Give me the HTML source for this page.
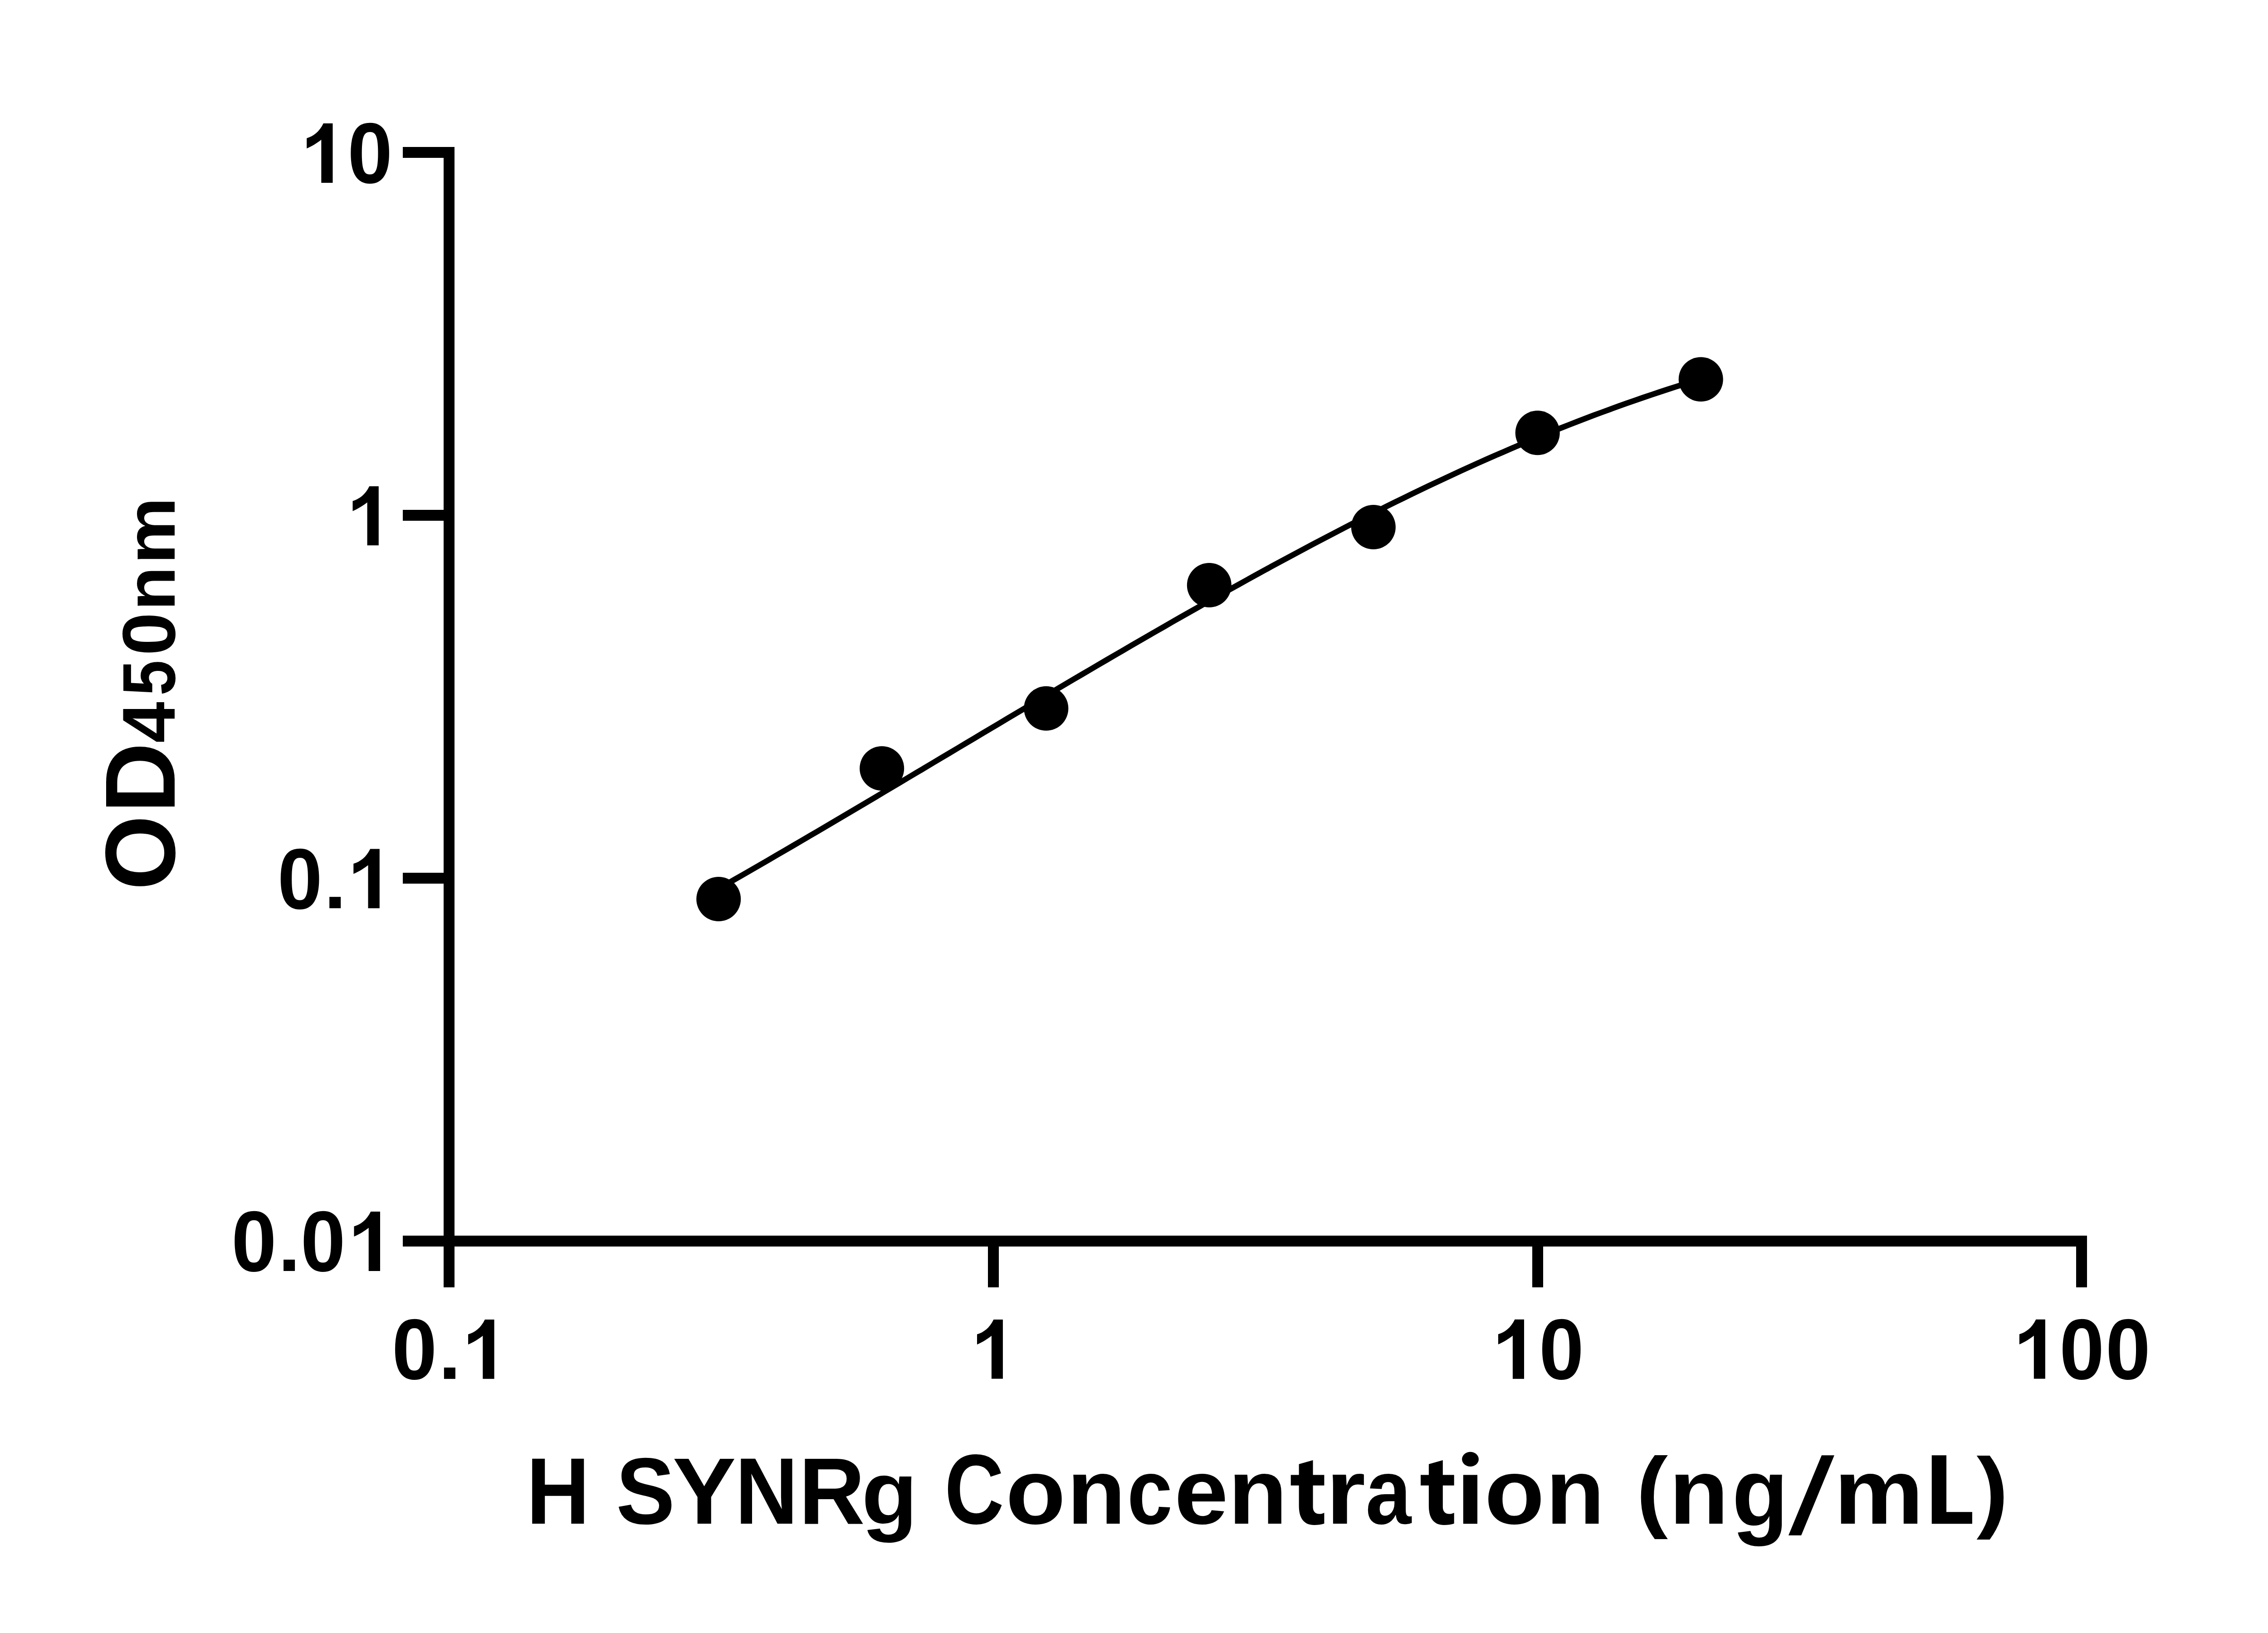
<!DOCTYPE html>
<html><head><meta charset="utf-8"><style>
html,body{margin:0;padding:0;background:#fff;}
body{width:5142px;height:3600px;overflow:hidden;}
svg{display:block;}
text{font-family:"Liberation Sans",sans-serif;font-weight:bold;fill:#000;}
</style></head><body>
<svg width="5142" height="3600" viewBox="0 0 5142 3600">
<rect width="5142" height="3600" fill="#fff"/>
<g fill="#000">
<rect x="978" y="324" width="24" height="2514"/>
<rect x="888" y="324" width="114" height="24"/>
<rect x="888" y="1124" width="114" height="24"/>
<rect x="888" y="1924" width="114" height="24"/>
<rect x="888" y="2724" width="3713" height="24"/>
<rect x="2178" y="2724" width="24" height="114"/>
<rect x="3378" y="2724" width="24" height="114"/>
<rect x="4577" y="2724" width="24" height="114"/>
</g>
<path d="M1584.2,1959.0 L1602.4,1948.7 L1620.6,1938.3 L1638.8,1927.8 L1657.0,1917.3 L1675.2,1906.8 L1693.4,1896.3 L1711.6,1885.7 L1729.8,1875.1 L1748.0,1864.5 L1766.2,1853.9 L1784.4,1843.2 L1802.6,1832.6 L1820.8,1821.9 L1839.0,1811.1 L1857.2,1800.4 L1875.4,1789.6 L1893.6,1778.9 L1911.8,1768.1 L1930.0,1757.3 L1948.1,1746.5 L1966.3,1735.7 L1984.5,1724.9 L2002.7,1714.0 L2020.9,1703.2 L2039.1,1692.4 L2057.3,1681.5 L2075.5,1670.7 L2093.7,1659.8 L2111.9,1649.0 L2130.1,1638.1 L2148.3,1627.3 L2166.5,1616.4 L2184.7,1605.6 L2202.9,1594.8 L2221.1,1583.9 L2239.3,1573.1 L2257.5,1562.3 L2275.7,1551.5 L2293.9,1540.7 L2312.1,1529.9 L2330.3,1519.2 L2348.5,1508.4 L2366.7,1497.7 L2384.9,1487.0 L2403.1,1476.3 L2421.3,1465.6 L2439.5,1455.0 L2457.7,1444.4 L2475.9,1433.8 L2494.1,1423.2 L2512.3,1412.6 L2530.5,1402.1 L2548.7,1391.6 L2566.9,1381.2 L2585.1,1370.7 L2603.3,1360.3 L2621.5,1350.0 L2639.7,1339.7 L2657.9,1329.4 L2676.0,1319.1 L2694.2,1308.9 L2712.4,1298.8 L2730.6,1288.7 L2748.8,1278.6 L2767.0,1268.6 L2785.2,1258.6 L2803.4,1248.6 L2821.6,1238.8 L2839.8,1228.9 L2858.0,1219.2 L2876.2,1209.5 L2894.4,1199.8 L2912.6,1190.2 L2930.8,1180.7 L2949.0,1171.2 L2967.2,1161.8 L2985.4,1152.4 L3003.6,1143.1 L3021.8,1133.9 L3040.0,1124.8 L3058.2,1115.7 L3076.4,1106.7 L3094.6,1097.8 L3112.8,1088.9 L3131.0,1080.1 L3149.2,1071.4 L3167.4,1062.8 L3185.6,1054.3 L3203.8,1045.8 L3222.0,1037.4 L3240.2,1029.1 L3258.4,1020.9 L3276.6,1012.8 L3294.8,1004.8 L3313.0,996.9 L3331.2,989.0 L3349.4,981.3 L3367.6,973.6 L3385.8,966.0 L3403.9,958.5 L3422.1,951.2 L3440.3,943.9 L3458.5,936.7 L3476.7,929.6 L3494.9,922.6 L3513.1,915.7 L3531.3,909.0 L3549.5,902.3 L3567.7,895.7 L3585.9,889.2 L3604.1,882.8 L3622.3,876.5 L3640.5,870.4 L3658.7,864.3 L3676.9,858.3 L3695.1,852.4 L3713.3,846.7 L3731.5,841.0 L3749.7,835.5" fill="none" stroke="#000" stroke-width="12.5" stroke-linejoin="round"/>
<g fill="#000">
<circle cx="1584.2" cy="1982" r="49"/>
<circle cx="1944.2" cy="1694" r="49"/>
<circle cx="2306.3" cy="1561.8" r="49"/>
<circle cx="2665.8" cy="1290.1" r="49"/>
<circle cx="3027.8" cy="1162" r="49"/>
<circle cx="3389.7" cy="954.2" r="49"/>
<circle cx="3749.7" cy="836.2" r="49"/>
</g>
<g fill="#000">
<path transform="translate(676.20,402.90) scale(1.0035,1.0023)" d="M36.6,-130.5 L57.1,-130.5 L57.1,0 L32,0 L32,-94.8 C24,-88.5 12,-80.5 0,-75.6 L0,-98 C14,-102 28,-112 36.6,-130.5 Z"/>
<text transform="translate(766.36,403.36) scale(0.9343,0.9903)" font-size="190.4">0</text>
<path transform="translate(777.50,1202.30) scale(1.0035,0.9992)" d="M36.6,-130.5 L57.1,-130.5 L57.1,0 L32,0 L32,-94.8 C24,-88.5 12,-80.5 0,-75.6 L0,-98 C14,-102 28,-112 36.6,-130.5 Z"/>
<text transform="translate(611.86,2002.66) scale(0.9354,0.9903)" font-size="190.4">0</text>
<rect x="726.20" y="1977.20" width="25" height="25"/>
<path transform="translate(779.30,2002.20) scale(1.0070,1.0015)" d="M36.6,-130.5 L57.1,-130.5 L57.1,0 L32,0 L32,-94.8 C24,-88.5 12,-80.5 0,-75.6 L0,-98 C14,-102 28,-112 36.6,-130.5 Z"/>
<text transform="translate(510.33,2802.36) scale(0.9387,0.9903)" font-size="190.4">0</text>
<rect x="625.10" y="2776.90" width="25" height="25"/>
<text transform="translate(662.87,2802.36) scale(0.9332,0.9903)" font-size="190.4">0</text>
<path transform="translate(780.50,2801.90) scale(1.0070,1.0038)" d="M36.6,-130.5 L57.1,-130.5 L57.1,0 L32,0 L32,-94.8 C24,-88.5 12,-80.5 0,-75.6 L0,-98 C14,-102 28,-112 36.6,-130.5 Z"/>
<text transform="translate(864.04,3040.26) scale(0.9376,0.9903)" font-size="190.4">0</text>
<rect x="978.90" y="3014.80" width="25" height="25"/>
<path transform="translate(1032.10,3039.80) scale(1.0070,1.0031)" d="M36.6,-130.5 L57.1,-130.5 L57.1,0 L32,0 L32,-94.8 C24,-88.5 12,-80.5 0,-75.6 L0,-98 C14,-102 28,-112 36.6,-130.5 Z"/>
<path transform="translate(2154.00,3039.60) scale(0.9965,1.0015)" d="M36.6,-130.5 L57.1,-130.5 L57.1,0 L32,0 L32,-94.8 C24,-88.5 12,-80.5 0,-75.6 L0,-98 C14,-102 28,-112 36.6,-130.5 Z"/>
<path transform="translate(3302.90,3039.70) scale(1.0000,1.0038)" d="M36.6,-130.5 L57.1,-130.5 L57.1,0 L32,0 L32,-94.8 C24,-88.5 12,-80.5 0,-75.6 L0,-98 C14,-102 28,-112 36.6,-130.5 Z"/>
<text transform="translate(3392.97,3040.16) scale(0.9332,0.9903)" font-size="190.4">0</text>
<path transform="translate(4451.90,3039.40) scale(0.9982,1.0015)" d="M36.6,-130.5 L57.1,-130.5 L57.1,0 L32,0 L32,-94.8 C24,-88.5 12,-80.5 0,-75.6 L0,-98 C14,-102 28,-112 36.6,-130.5 Z"/>
<text transform="translate(4540.17,3039.86) scale(0.9332,0.9903)" font-size="190.4">0</text>
<text transform="translate(4642.07,3039.86) scale(0.9332,0.9903)" font-size="190.4">0</text>
</g>
<g>
<text transform="translate(1160.22,3359.00) scale(0.9371,1.0000)" font-size="207.1">H</text>
<text transform="translate(1358.20,3359.00) scale(0.9381,1.0000)" font-size="207.1">S</text>
<text transform="translate(1482.72,3359.00) scale(1.0110,1.0000)" font-size="207.1">Y</text>
<text transform="translate(1620.43,3359.00) scale(0.9289,1.0000)" font-size="207.1">N</text>
<text transform="translate(1760.90,3359.00) scale(0.9744,1.0000)" font-size="207.1">R</text>
<text transform="translate(1899.42,3359.27) scale(0.9745,0.9509)" font-size="207.1">g</text>
<text transform="translate(2082.47,3359.00) scale(0.8257,1.0000)" font-size="219.5">C</text>
<text transform="translate(2217.37,3359.00) scale(1.0572,1.0000)" font-size="204.2">o</text>
<text transform="translate(2352.22,3359.00) scale(1.0384,1.0000)" font-size="204.2">n</text>
<text transform="translate(2484.89,3359.00) scale(0.8784,1.0000)" font-size="204.2">c</text>
<text transform="translate(2588.97,3359.00) scale(1.0445,1.0000)" font-size="204.2">e</text>
<text transform="translate(2707.84,3359.00) scale(1.0445,1.0000)" font-size="204.2">n</text>
<text transform="translate(2923.36,3359.00) scale(1.0951,1.0000)" font-size="204.2">r</text>
<text transform="translate(3010.59,3359.00) scale(0.8872,1.0000)" font-size="204.2">a</text>
<text transform="translate(3272.85,3359.00) scale(1.0599,1.0000)" font-size="204.2">o</text>
<text transform="translate(3407.79,3359.00) scale(1.0405,1.0000)" font-size="204.2">n</text>
<text transform="translate(3607.27,3352.49) scale(0.9540,0.9091)" font-size="219.5">(</text>
<text transform="translate(3679.74,3359.00) scale(1.0516,1.0000)" font-size="204.2">n</text>
<text transform="translate(3818.49,3364.12) scale(0.9922,1.0486)" font-size="204.2">g</text>
<text transform="translate(4043.15,3359.00) scale(1.0885,1.0000)" font-size="204.2">m</text>
<text transform="translate(4357.49,3352.64) scale(0.9589,0.9081)" font-size="219.5">)</text>
<polygon points="4016,3208.3 4043.9,3208.3 3971,3384.7 3942.9,3384.7"/>
<path d="M3149.9,3227.7 L3180.8,3219 L3180.8,3251.5 L3205.7,3251.5 L3205.7,3274.8 L3180.8,3274.8 L3180.8,3322 C3180.8,3332 3186,3337.5 3195,3337.5 C3199,3337.5 3202.5,3336.5 3205.7,3334.9 L3205.7,3358.7 C3199,3361 3191,3362 3183.5,3362 C3162,3362 3149.9,3348 3149.9,3320 L3149.9,3274.8 L3132,3274.8 L3132,3251.5 L3149.9,3251.5 Z"/>
<path transform="translate(-286.3,0)" d="M3149.9,3227.7 L3180.8,3219 L3180.8,3251.5 L3205.7,3251.5 L3205.7,3274.8 L3180.8,3274.8 L3180.8,3322 C3180.8,3332 3186,3337.5 3195,3337.5 C3199,3337.5 3202.5,3336.5 3205.7,3334.9 L3205.7,3358.7 C3199,3361 3191,3362 3183.5,3362 C3162,3362 3149.9,3348 3149.9,3320 L3149.9,3274.8 L3132,3274.8 L3132,3251.5 L3149.9,3251.5 Z"/>
<rect x="3225.8" y="3251.5" width="31.2" height="107.7"/><ellipse cx="3241.5" cy="3216.9" rx="18.4" ry="16.1"/>
<polygon points="4258.7,3208.2 4291,3208.2 4291,3333.3 4347.9,3333.3 4347.9,3359.3 4258.7,3359.3"/>
</g>
<g transform="translate(384.6,0) rotate(-90)">
<text transform="translate(-1962.41,0.00) scale(0.9649,1.0000)" font-size="220.0">O</text>
<text transform="translate(-1792.62,0.00) scale(0.9798,1.0000)" font-size="220.0">D</text>
<text transform="translate(-1637.87,0.00) scale(0.9878,1.0000)" font-size="165.0">4</text>
<text transform="translate(-1533.53,0.00) scale(0.8526,1.0000)" font-size="165.0">5</text>
<text transform="translate(-1445.27,0.00) scale(1.0373,1.0000)" font-size="165.0">0</text>
<text transform="translate(-1345.88,0.00) scale(1.0327,1.0000)" font-size="154.0">n</text>
<text transform="translate(-1243.86,0.00) scale(1.0799,1.0000)" font-size="154.0">m</text>
</g>
</svg>
</body></html>
